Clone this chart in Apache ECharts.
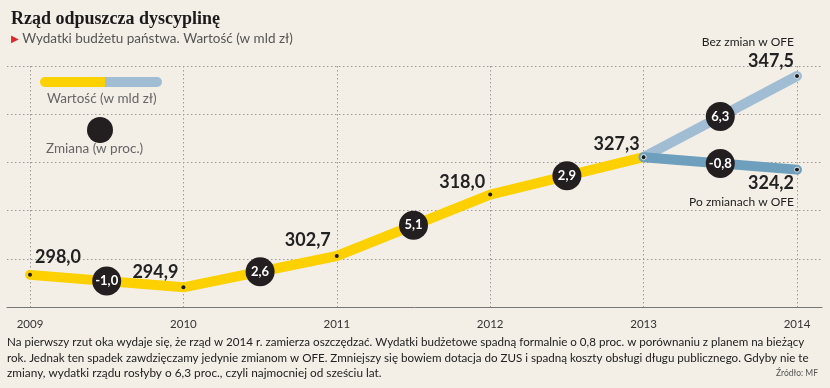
<!DOCTYPE html>
<html><head><meta charset="utf-8">
<script src="https://cdn.jsdelivr.net/npm/echarts@6/dist/echarts.min.js"></script>
<style>html,body{margin:0;padding:0;background:#F3EFE7}#c{width:830px;height:388px}</style>
</head><body><div id="c"></div>
<script>
// ---- data ----
const yearTicks = [2009, 2010, 2011, 2012, 2013, 2014];
const baseYears = [2009, 2010, 2011, 2012, 2013];
const baseValues = [298.0, 294.9, 302.7, 318.0, 327.3];
const branchYears = [2013, 2014];
const noReformValues = [327.3, 347.5];   // Bez zmian w OFE
const reformValues = [327.3, 324.2];     // Po zmianach w OFE
const baseChanges = [-1.0, 2.6, 5.1, 2.9];
const noReformChanges = [6.3];
const reformChanges = [-0.8];

const bodyLines = [
  'Na pierwszy rzut oka wydaje się, że rząd w 2014 r. zamierza oszczędzać. Wydatki budżetowe spadną formalnie o 0,8 proc. w porównaniu z planem na bieżący',
  'rok. Jednak ten spadek zawdzięczamy jedynie zmianom w OFE. Zmniejszy się bowiem dotacja do ZUS i spadną koszty obsługi długu publicznego. Gdyby nie te',
  'zmiany, wydatki rządu rosłyby o 6,3 proc., czyli najmocniej od sześciu lat.'
];

const fmt = v => v.toFixed(1).replace('.', ',');
const FONT = 'Lato, "Open Sans", sans-serif';

function pairs(xs, ys) { return xs.map((x, i) => [x, ys[i]]); }
function mids(xs, ys, ch) {
  return ch.map((c, i) => [(xs[i] + xs[i + 1]) / 2, (ys[i] + ys[i + 1]) / 2, c]);
}

const labelBase = {show: true, position: 'inside', fontFamily: FONT, fontWeight: 'bold', fontSize: 18, color: '#222'};
const baseOffsets = [[28, -18], [-28, -15], [-29, -16], [-28, -12], [-27, -13]];

const baseData = pairs(baseYears, baseValues).map((d, i) => ({
  value: d,
  label: Object.assign({}, labelBase, {offset: baseOffsets[i], formatter: p => fmt(p.value[1])})
}));
const richStyles = {
  a: {fontFamily: FONT, fontSize: 12, fontWeight: 'normal', color: '#222', lineHeight: 17, align: 'right'},
  b: {fontFamily: FONT, fontSize: 18, fontWeight: 'bold', color: '#222', lineHeight: 20, align: 'right'}
};
const noReformData = pairs(branchYears, noReformValues).map((d, i) => i === 0 ? {value: d} : ({
  value: d,
  label: Object.assign({}, labelBase, {
    align: 'right', verticalAlign: 'bottom', offset: [-3, -5],
    formatter: p => '{a|Bez zmian w OFE}\n{b|' + fmt(p.value[1]) + '}', rich: richStyles
  })
}));
const reformData = pairs(branchYears, reformValues).map((d, i) => i === 0 ? {value: d} : ({
  value: d,
  label: Object.assign({}, labelBase, {
    align: 'right', verticalAlign: 'top', offset: [-3, 4],
    formatter: p => '{b|' + fmt(p.value[1]) + '}\n{a|Po zmianach w OFE}', rich: richStyles
  })
}));

const bubbles = [].concat(
  mids(baseYears, baseValues, baseChanges),
  mids(branchYears, noReformValues, noReformChanges),
  mids(branchYears, reformValues, reformChanges)
);

const chart = echarts.init(document.getElementById('c'));
const dotted = {type: [1.5, 2.5], color: '#9a9a9a', width: 1};

chart.setOption({
  backgroundColor: '#F3EFE7',
  animation: false,
  title: [
    {text: 'Rząd odpuszcza dyscyplinę', left: 6, top: 5,
     textStyle: {fontFamily: '"Liberation Serif", serif', fontWeight: 'bold', fontSize: 18, color: '#1a1a1a'}},
    {text: '{t|▶} Wydatki budżetu państwa. Wartość (w mld zł)', left: 6, top: 27,
     textStyle: {fontFamily: FONT, fontSize: 13.5, fontWeight: 'normal', color: '#555',
       rich: {t: {color: '#E3262B', fontSize: 10, fontFamily: 'DejaVu Sans'}}}}
  ],
  grid: [
    {left: 30, right: 33, top: 66, bottom: 81},
    {left: 7, right: 8, top: 66, bottom: 81}
  ],
  xAxis: [
    {type: 'value', gridIndex: 0, min: 2009, max: 2014, interval: 1,
     axisLine: {show: false}, axisTick: {show: false},
     axisLabel: {formatter: v => String(v), fontFamily: FONT, fontSize: 11.5, color: '#333', margin: 11},
     splitLine: {show: true, lineStyle: dotted}},
    {type: 'value', gridIndex: 1, min: 0, max: 1,
     axisLine: {show: true, lineStyle: {color: '#777', width: 1}}, axisTick: {show: false},
     axisLabel: {show: false}, splitLine: {show: false}}
  ],
  yAxis: [
    {type: 'value', gridIndex: 0, min: 290, max: 350, interval: 12,
     axisLine: {show: false}, axisTick: {show: false}, axisLabel: {show: false}, splitLine: {show: false}},
    {type: 'value', gridIndex: 1, min: 290, max: 350, interval: 12,
     axisLine: {show: false}, axisTick: {show: false}, axisLabel: {show: false},
     splitLine: {show: true, lineStyle: dotted}}
  ],
  series: [
    {type: 'line', xAxisIndex: 0, yAxisIndex: 0, data: noReformData, z: 3,
     lineStyle: {color: '#A1BDD3', width: 10, cap: 'round'},
     symbol: 'circle', symbolSize: 5, itemStyle: {color: '#1a1a1a', borderColor: '#dfe8ee', borderWidth: 1}},
    {type: 'line', xAxisIndex: 0, yAxisIndex: 0, data: reformData, z: 3,
     lineStyle: {color: '#6E9FBC', width: 10, cap: 'round'},
     symbol: 'circle', symbolSize: 5, itemStyle: {color: '#1a1a1a', borderColor: '#dfe8ee', borderWidth: 1}},
    {type: 'line', xAxisIndex: 0, yAxisIndex: 0, data: baseData, z: 2,
     lineStyle: {color: '#FDD000', width: 10, cap: 'round'},
     symbol: 'circle', symbolSize: 4, itemStyle: {color: '#1a1a1a'}},
    {type: 'scatter', xAxisIndex: 0, yAxisIndex: 0, data: bubbles, z: 5,
     symbol: 'circle', symbolSize: 29, itemStyle: {color: '#231F20', opacity: 1},
     label: {show: true, position: 'inside', formatter: p => fmt(p.value[2]),
       fontFamily: FONT, fontWeight: 'bold', fontSize: 13, color: '#fff'}}
  ],
  graphic: [
    {type: 'rect', left: 40, top: 77, shape: {width: 65, height: 10, r: [5, 0, 0, 5]}, style: {fill: '#FDD000'}},
    {type: 'rect', left: 105, top: 77, shape: {width: 57, height: 10, r: [0, 5, 5, 0]}, style: {fill: '#A1BDD3'}},
    {type: 'text', left: 47, top: 92, style: {text: 'Wartość (w mld zł)', font: '13.5px ' + FONT, fill: '#666'}},
    {type: 'circle', left: 87, top: 117, shape: {r: 13}, style: {fill: '#231F20'}},
    {type: 'text', left: 46, top: 142, style: {text: 'Zmiana (w proc.)', font: '13.5px ' + FONT, fill: '#666'}},
    {type: 'text', left: 7, top: 336, style: {text: bodyLines[0], font: '11.6px ' + FONT, fill: '#222'}},
    {type: 'text', left: 7, top: 352, style: {text: bodyLines[1], font: '11.6px ' + FONT, fill: '#222'}},
    {type: 'text', left: 7, top: 367, style: {text: bodyLines[2], font: '11.8px ' + FONT, fill: '#222'}},
    {type: 'text', right: 12, top: 369, style: {text: 'Źródło: MF', font: '8.5px ' + FONT, fill: '#555'}}
  ]
});
</script></body></html>
